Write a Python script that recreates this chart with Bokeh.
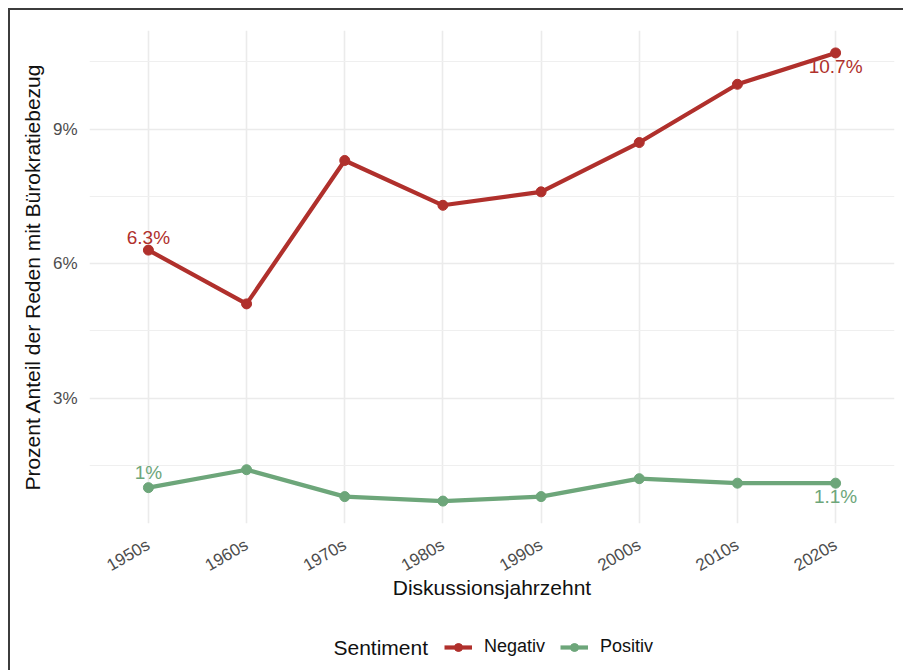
import math
from bokeh.plotting import figure
from bokeh.layouts import column
from bokeh.models import (Range1d, FixedTicker, PrintfTickFormatter, Legend,
                          LegendItem, Label)
from bokeh.core.properties import value
from bokeh.embed import file_html
from bokeh.resources import INLINE

# ---- data ----
decades = ["1950s", "1960s", "1970s", "1980s", "1990s", "2000s", "2010s", "2020s"]
negativ = [6.3, 5.1, 8.3, 7.3, 7.6, 8.7, 10.0, 10.7]
positiv = [1.0, 1.4, 0.8, 0.7, 0.8, 1.2, 1.1, 1.1]
y_ticks = [3, 6, 9]
y_minor = [1.5, 4.5, 7.5, 10.5]
series_names = ["Negativ", "Positiv"]
legend_title = "Sentiment"

RED = "#B0302C"
GREEN = "#6DA67A"
FONT = "Liberation Sans"

W = 893
H1 = 620
H2 = 40
ML, MR = 79, 9
FW = W - ML - MR

xs = list(range(len(decades)))
ymin = min(negativ + positiv)
ymax = max(negativ + positiv)
pad = (ymax - ymin) * 0.05

p = figure(width=W, height=H1, output_backend="svg", toolbar_location=None,
           x_range=Range1d(-0.6, len(decades) - 1 + 0.6),
           y_range=Range1d(ymin - pad, ymax + pad),
           min_border_left=ML, min_border_right=MR, min_border_top=20,
           min_border_bottom=107)
p.outline_line_color = None
p.background_fill_color = "white"
p.border_fill_color = "white"

# axes
p.xaxis.ticker = FixedTicker(ticks=xs, minor_ticks=[])
p.xaxis.major_label_overrides = {i: d for i, d in enumerate(decades)}
p.xaxis.major_label_orientation = math.pi / 6
p.yaxis.ticker = FixedTicker(ticks=y_ticks, minor_ticks=y_minor)
p.yaxis.formatter = PrintfTickFormatter(format="%d%%")
for ax in (p.xaxis, p.yaxis):
    ax.axis_line_color = None
    ax.major_tick_line_color = None
    ax.minor_tick_line_color = None
    ax.major_tick_out = 0
    ax.minor_tick_out = 0
    ax.major_label_text_font = FONT
    ax.major_label_text_font_size = "17px"
    ax.major_label_text_color = "#4D4D4D"
    ax.axis_label_text_font = FONT
    ax.axis_label_text_font_size = "21px"
    ax.axis_label_text_font_style = "normal"
    ax.axis_label_text_color = "#111111"
p.xaxis.axis_label = "Diskussionsjahrzehnt"
p.yaxis.axis_label = "Prozent Anteil der Reden mit Bürokratiebezug"
p.yaxis.major_label_standoff = 12
p.xaxis.major_label_standoff = 20
p.yaxis.axis_label_standoff = 6
p.xaxis.axis_label_standoff = -10

# grid
p.xgrid.grid_line_color = "#EBEBEB"
p.xgrid.grid_line_width = 1.6
p.ygrid.grid_line_color = "#EBEBEB"
p.ygrid.grid_line_width = 1.6
p.ygrid.minor_grid_line_color = "#EFEFEF"
p.ygrid.minor_grid_line_width = 1.2

# series
p.line(xs, negativ, line_width=4.2, color=RED)
p.scatter(xs, negativ, size=10, color=RED)
p.line(xs, positiv, line_width=4.2, color=GREEN)
p.scatter(xs, positiv, size=10, color=GREEN)

# end labels
def lab(v):
    return f"{v:g}%"

for vals, col, off in ((negativ, RED, -2), (positiv, GREEN, -5)):
    p.text(x=[xs[0]], y=[vals[0]], text=[lab(vals[0])], text_color=col,
           text_font=value(FONT), text_font_size="19px", text_align="center",
           text_baseline="bottom", y_offset=off)
    p.text(x=[xs[-1]], y=[vals[-1]], text=[lab(vals[-1])], text_color=col,
           text_font=value(FONT), text_font_size="19px", text_align="center",
           text_baseline="top", y_offset=3)

# ---- legend strip (frame aligned with the main plot, units = pixels) ----
q = figure(width=W, height=H2, output_backend="svg", toolbar_location=None,
           x_range=Range1d(0, FW), y_range=Range1d(0, H2),
           min_border_left=ML, min_border_right=MR, min_border_top=0,
           min_border_bottom=0, x_axis_type=None, y_axis_type=None)
q.outline_line_color = None
q.grid.visible = False
q.background_fill_color = "white"
q.border_fill_color = "white"

items = []
for name, col in zip(series_names, (RED, GREEN)):
    # off-canvas stand-ins, used only for the legend keys
    ln = q.line(x=[-1000, -990], y=[-1000, -1000], line_width=4.2, color=col)
    sc = q.scatter(x=[-1000], y=[-1000], size=10, color=col)
    items.append(LegendItem(label=name, renderers=[ln, sc]))

legend = Legend(items=items, orientation="horizontal", location=(355, 13),
                padding=0, margin=0, spacing=15, label_standoff=12,
                glyph_width=28, glyph_height=20, label_height=20,
                border_line_color=None, background_fill_alpha=0,
                label_text_font=FONT, label_text_font_size="18px",
                label_text_color="#111111")
q.add_layout(legend, "center")
q.add_layout(Label(x=244, y=23, text=legend_title, text_font=FONT,
                   text_font_size="21px", text_color="#111111",
                   text_baseline="middle", text_align="left"))

layout = column(p, q, spacing=0,
                styles={"margin-left": "8px", "margin-top": "8px",
                        "border-left": "2px solid #3c3c3c",
                        "border-top": "2px solid #3c3c3c"})

open("out.html", "w").write(file_html(layout, INLINE))
